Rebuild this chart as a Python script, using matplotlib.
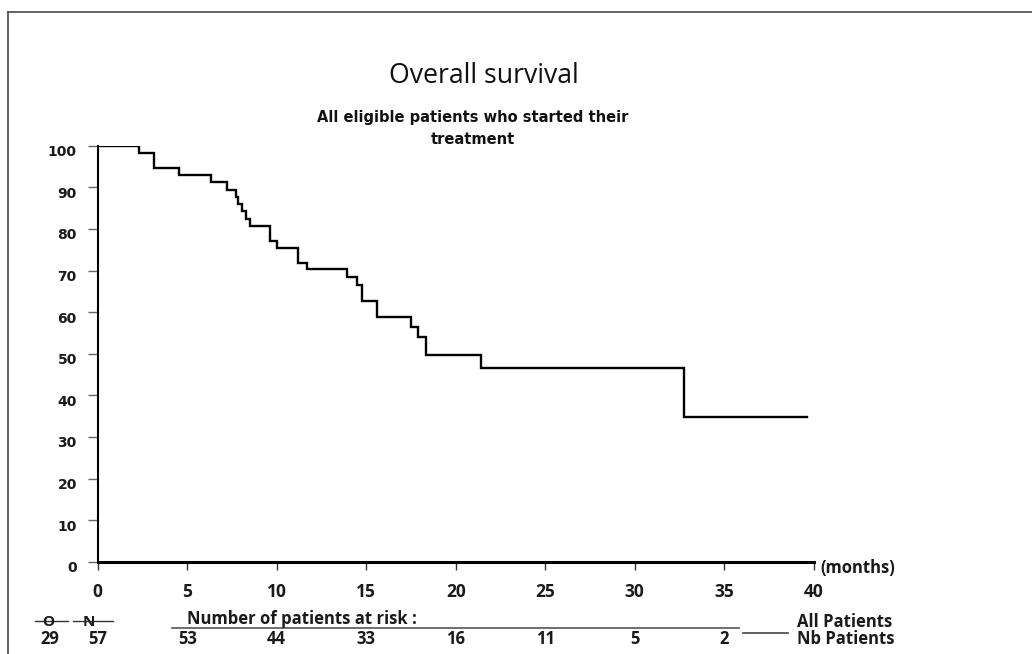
import matplotlib
matplotlib.use("Agg")
import matplotlib.pyplot as plt
import matplotlib.transforms as mtransforms
from matplotlib.lines import Line2D

# Kaplan-Meier curve (months, % alive)
months = [0, 2.31, 3.16, 4.56, 6.33, 7.21, 7.71, 7.85, 8.04, 8.27, 8.51, 9.63,
          10.03, 11.21, 11.68, 13.94, 14.47, 14.78, 15.59, 17.50, 17.91, 18.32,
          21.41, 32.77, 39.6]
survival = [100, 98.2, 94.6, 93.0, 91.2, 89.4, 87.7, 86.0, 84.2, 82.4, 80.6, 77.1,
            75.3, 71.9, 70.3, 68.4, 66.6, 62.6, 58.8, 56.5, 54.1, 49.6,
            46.5, 34.9, 34.9]

x_ticks = [0, 5, 10, 15, 20, 25, 30, 35, 40]
y_ticks = [0, 10, 20, 30, 40, 50, 60, 70, 80, 90, 100]

# number at risk table
risk_times = [5, 10, 15, 20, 25, 30, 35]
risk_counts = [53, 44, 33, 16, 11, 5, 2]
n_observed = 29
n_total = 57

title = "Overall survival"
subtitle = "All eligible patients who started their\ntreatment"

W, H = 1032, 654
SANS = "Open Sans"
INK = "#1a1a1a"
FS = 12
fig = plt.figure(figsize=(W / 100, H / 100), dpi=100)
fig.patch.set_facecolor("white")


def fx(px):
    return px / W


def fy(py):
    return 1 - py / H


def label(x, y, s, **kw):
    opts = dict(ha="center", va="center", fontsize=FS, fontfamily=SANS,
                fontweight="bold", color=INK)
    opts.update(kw)
    return fig.text(fx(x), fy(y), s, **opts)


ax = fig.add_axes([fx(97.7), fy(561.7), fx(813.7) - fx(97.7), fy(145.7) - fy(561.7)])
ax.step(months, survival, where="post", color="black", lw=1.7, solid_joinstyle="miter")
ax.set_xlim(0, 40)
ax.set_ylim(0, 100)
ax.set_xticks(x_ticks)
ax.set_yticks(y_ticks)
for s in ("top", "right"):
    ax.spines[s].set_visible(False)
ax.spines["left"].set_linewidth(1.5)
ax.spines["bottom"].set_linewidth(2.2)
ax.tick_params(axis="x", direction="out", length=6, width=1, color="#333333", pad=9,
               labelsize=FS + 0.5)
ax.tick_params(axis="y", direction="out", length=7, width=1, color="#666666", pad=8,
               labelsize=10)
for lab in ax.get_xticklabels():
    lab.set_fontfamily(SANS)
    lab.set_fontweight("bold")
    lab.set_color(INK)
shift = mtransforms.ScaledTranslation(0, -5 / 100, fig.dpi_scale_trans)
for lab in ax.get_yticklabels():
    lab.set_fontfamily("DejaVu Sans")
    lab.set_fontweight("bold")
    lab.set_color(INK)
    lab.set_transform(lab.get_transform() + shift)

label(820, 568, "(months)", ha="left")

label(484, 76, title, fontsize=19.2, fontweight="normal", color="#111111")
fig.text(fx(472.5), fy(128.5), subtitle, ha="center", va="center", fontsize=10.5,
         fontfamily="DejaVu Sans", fontweight="bold", color="#111111", linespacing=1.6)

# number at risk row, aligned to the x scale
risk_tr = mtransforms.blended_transform_factory(ax.transData, fig.transFigure)
for t, n in zip([0] + risk_times, [n_total] + risk_counts):
    ax.text(t, fy(639.5), str(n), transform=risk_tr, ha="center", va="center",
            fontsize=FS, fontfamily=SANS, fontweight="bold", color=INK, clip_on=False)
label(50, 639.5, str(n_observed))
label(48.5, 622.5, "O", fontsize=11)
label(88.5, 622.5, "N", fontsize=11)
label(187, 619, "Number of patients at risk :", ha="left")
label(797, 622, "All Patients", ha="left")
label(797, 639.5, "Nb Patients", ha="left")

# strike lines, underline and legend rule
for x0, x1, y, c, w in [(35, 68, 621, "#333333", 1.0), (73, 113, 621, "#333333", 1.0),
                        (171.7, 739.3, 627.7, "#555555", 1.2),
                        (742.7, 788, 632.7, "#444444", 1.2)]:
    fig.add_artist(Line2D([fx(x0), fx(x1)], [fy(y), fy(y)], color=c, lw=w))

# outer frame (cut at the right and bottom)
fig.add_artist(Line2D([fx(8.3), fx(W)], [fy(11.7), fy(11.7)], color="#555555", lw=1.3))
fig.add_artist(Line2D([fx(8.3), fx(8.3)], [fy(11.7), fy(H)], color="#555555", lw=1.3))

fig.savefig("out.png", dpi=100, facecolor="white")
